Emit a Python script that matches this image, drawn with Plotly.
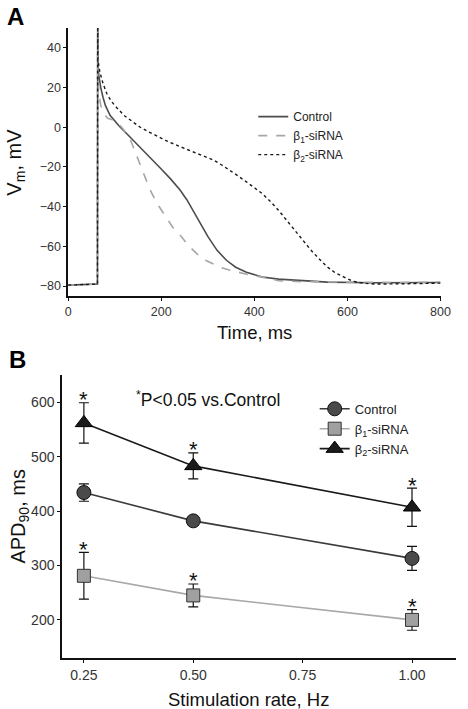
import plotly.graph_objects as go

# ---------- Panel A data (action potentials) ----------
t_control = [0, 30, 62, 63, 63.5, 64, 66, 70, 75, 80, 90, 100, 110, 125, 140, 160, 180, 200, 220, 240, 255, 270, 285,
             300, 320, 340, 360, 383, 417, 452, 487, 557, 650, 800]
v_control = [-79.5, -79.2, -79, -79, 60, 30, 26, 20, 15, 11, 6, 3, 0.5, -3, -6.6, -11, -16, -21, -26, -31.5, -36.5, -42.5, -49,
             -55, -62, -67, -70.5, -73, -75.4, -76.5, -77, -78, -78.3, -78.2]

t_beta1 = [0, 30, 62, 63, 63.5, 64, 66, 70, 76, 85, 95, 105, 115, 125, 135, 145, 155, 165, 175, 190, 209, 225, 243,
           260, 278, 295, 313, 330, 348, 383, 417, 452, 500, 600, 700, 800]
v_beta1 = [-79.5, -79.2, -79, -79, 60, 25, 18, 11, 7, 4.5, 3.8, 2.5, 0, -3, -7, -13, -19, -25, -31, -38, -45, -50.5, -55,
           -60, -64, -67, -69, -70.8, -72, -74, -75.5, -77.3, -77.8, -78, -78.2, -78]

t_beta2 = [0, 30, 62, 63, 63.5, 64, 68, 75, 83, 93, 104, 120, 139, 155, 174, 190, 209, 243, 278, 313, 330, 348, 365,
           383, 400, 417, 435, 452, 470, 487, 505, 522, 540, 557, 575, 591, 612, 635, 661, 730, 800]
v_beta2 = [-79.5, -79.2, -79, -79, 60, 34, 28, 22, 17, 13, 10, 6, 2.7, 0, -2.4, -4.5, -6.6, -10, -13.3, -16.6, -19, -21.7,
           -24.5, -27.5, -30.5, -33.4, -37.5, -41.8, -47, -52, -57, -62, -66.5, -70.4, -73.5, -75.4, -77.6, -78.6, -79,
           -78.8, -78.5]

# ---------- Panel B data (APD90) ----------
rates = [0.25, 0.50, 1.00]
apd_control = [434, 382, 313]
err_control = [16, 8, 22]
apd_beta1 = [281, 245, 200]
err_beta1 = [43, 21, 19]
apd_beta2 = [562, 483, 407]
err_beta2 = [37, 24, 35]
sig_beta1 = [True, True, True]
sig_beta2 = [True, True, True]

FONT = "Liberation Sans, Arial, sans-serif"
TICKC = "#333333"

fig = go.Figure()

# Panel A traces
fig.add_trace(go.Scatter(x=t_control, y=v_control, mode="lines", name="Control",
                         line=dict(color="#4d4d4d", width=1.6),
                         xaxis="x", yaxis="y", legend="legend"))
fig.add_trace(go.Scatter(x=t_beta1, y=v_beta1, mode="lines", name="β<sub>1</sub>-siRNA",
                         line=dict(color="#a6a6a6", width=1.6, dash="dash"),
                         xaxis="x", yaxis="y", legend="legend"))
fig.add_trace(go.Scatter(x=t_beta2, y=v_beta2, mode="lines", name="β<sub>2</sub>-siRNA",
                         line=dict(color="#1a1a1a", width=1.4, dash="dot"),
                         xaxis="x", yaxis="y", legend="legend"))

# Panel B traces
fig.add_trace(go.Scatter(x=rates, y=apd_control, mode="lines+markers", name="Control",
                         line=dict(color="#3a3a3a", width=1.6),
                         marker=dict(symbol="circle", size=14, color="#4a4a4a", line=dict(color="#111111", width=1)),
                         error_y=dict(type="data", array=err_control, color="#111111", thickness=1.2, width=5),
                         xaxis="x2", yaxis="y2", legend="legend2"))
fig.add_trace(go.Scatter(x=rates, y=apd_beta1, mode="lines+markers", name="β<sub>1</sub>-siRNA",
                         line=dict(color="#a8a8a8", width=1.6),
                         marker=dict(symbol="square", size=13, color="#a0a0a0", line=dict(color="#333333", width=1)),
                         error_y=dict(type="data", array=err_beta1, color="#111111", thickness=1.2, width=5),
                         xaxis="x2", yaxis="y2", legend="legend2"))
fig.add_trace(go.Scatter(x=rates, y=apd_beta2, mode="lines+markers", name="β<sub>2</sub>-siRNA",
                         line=dict(color="#1a1a1a", width=1.6),
                         marker=dict(symbol="triangle-up", size=15, color="#1a1a1a", line=dict(color="#000000", width=1)),
                         error_y=dict(type="data", array=err_beta2, color="#111111", thickness=1.2, width=5),
                         xaxis="x2", yaxis="y2", legend="legend2"))

annotations = []
for xs, ys, es, sig in [(rates, apd_beta1, err_beta1, sig_beta1), (rates, apd_beta2, err_beta2, sig_beta2)]:
    for xv, yv, ev, s in zip(xs, ys, es, sig):
        if s:
            annotations.append(dict(x=xv, y=yv + ev, xref="x2", yref="y2", text="*", showarrow=False,
                                    yanchor="middle", yshift=3, font=dict(family=FONT, size=22, color="#111111")))

annotations += [
    dict(x=0.004, y=0.998, xref="paper", yref="paper", text="<b>A</b>", showarrow=False,
         xanchor="left", yanchor="top", font=dict(family=FONT, size=24, color="#000000")),
    dict(x=0.008, y=0.5145, xref="paper", yref="paper", text="<b>B</b>", showarrow=False,
         xanchor="left", yanchor="top", font=dict(family=FONT, size=24, color="#000000")),
    dict(x=0.288, y=0.4375, xref="paper", yref="paper", text="<sup>*</sup>P<0.05 vs.Control", showarrow=False,
         xanchor="left", yanchor="middle", font=dict(family=FONT, size=17.5, color="#111111")),
    dict(x=13/468, y=(709-162)/709, xref="paper", yref="paper", text="V<sub>m</sub>, mV", showarrow=False,
         textangle=-90, xanchor="center", yanchor="middle", font=dict(family=FONT, size=20, color="#111111")),
    dict(x=16/468, y=(709-517)/709, xref="paper", yref="paper", text="APD<sub>90</sub>, ms", showarrow=False,
         textangle=-90, xanchor="center", yanchor="middle", font=dict(family=FONT, size=20, color="#111111")),
    dict(x=259/468, y=(709-332)/709, xref="paper", yref="paper", text="Time, ms",
         showarrow=False, xanchor="center", yanchor="middle", font=dict(family=FONT, size=18.5, color="#111111")),
    dict(x=253/468, y=(709-699)/709, xref="paper", yref="paper", text="Stimulation rate, Hz",
         showarrow=False, xanchor="center", yanchor="middle", font=dict(family=FONT, size=18.5, color="#111111")),
]

axis_common = dict(showline=True, linecolor="#111111", linewidth=1.5, ticks="outside", ticklen=3,
                   tickcolor="#111111", showgrid=False, zeroline=False)
fontA = dict(family=FONT, size=12.5, color=TICKC)
fontB = dict(family=FONT, size=14, color=TICKC)

fig.update_layout(
    width=468, height=709,
    margin=dict(l=0, r=0, t=0, b=0),
    paper_bgcolor="white", plot_bgcolor="white",
    font=dict(family=FONT, color="#111111"),
    xaxis=dict(domain=[67/468, 450/468], range=[0, 800], tickvals=[0, 200, 400, 600, 800],
               tickfont=fontA, anchor="y", **axis_common),
    yaxis=dict(domain=[(709-296)/709, (709-28)/709], range=[-85, 50], tickvals=[-80, -60, -40, -20, 0, 20, 40],
               tickfont=fontA, anchor="x", **axis_common),
    xaxis2=dict(domain=[60.7/468, 465.7/468], range=[0.2, 1.1], tickvals=[0.25, 0.5, 0.75, 1.0],
                ticktext=["0.25", "0.50", "0.75", "1.00"],
                tickfont=fontB, anchor="y2", **axis_common),
    yaxis2=dict(domain=[(709-658)/709, (709-375)/709], range=[130, 650], tickvals=[200, 300, 400, 500, 600],
                tickfont=fontB, anchor="x2", **axis_common),
    legend=dict(x=0.55, y=0.856, xanchor="left", yanchor="top", bgcolor="rgba(0,0,0,0)",
                font=dict(family=FONT, size=12, color="#222222"), tracegroupgap=0, itemwidth=30),
    legend2=dict(x=0.685, y=0.4445, xanchor="left", yanchor="top", bgcolor="rgba(0,0,0,0)",
                 font=dict(family=FONT, size=13, color="#222222"), tracegroupgap=0, itemwidth=30),
    annotations=annotations,
    showlegend=True,
)

fig.write_html("out.html", config={"displayModeBar": False})

# remove the browser's default page margin so the figure fills the window exactly
with open("out.html", "r", encoding="utf-8") as f:
    html = f.read()
html = html.replace("<head>", "<head><style>html,body{margin:0;padding:0;overflow:hidden;}</style>", 1)
with open("out.html", "w", encoding="utf-8") as f:
    f.write(html)
